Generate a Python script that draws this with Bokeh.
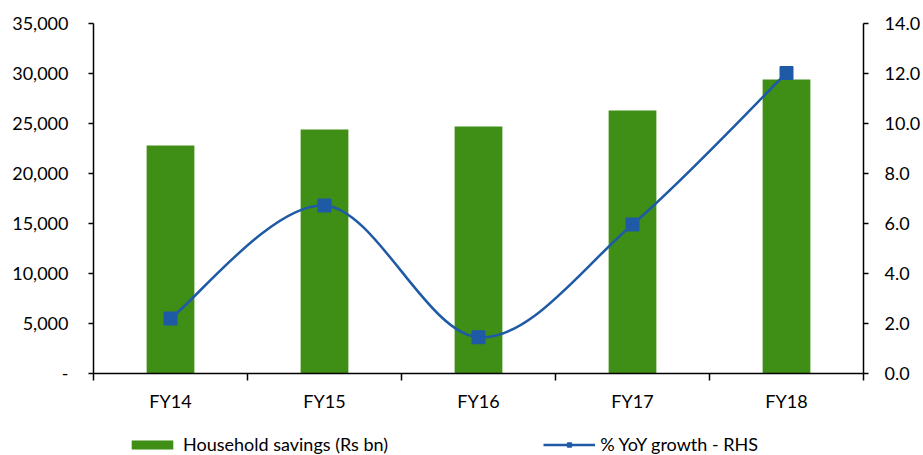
from bokeh.plotting import figure
from bokeh.layouts import column
from bokeh.models import (Range1d, LinearAxis, FixedTicker, NumeralTickFormatter,
                          Legend, LegendItem, ColumnDataSource)
from bokeh.embed import file_html
from bokeh.resources import INLINE

# Chart data
years = ["FY14", "FY15", "FY16", "FY17", "FY18"]
savings = [22800, 24400, 24700, 26300, 29400]        # Household savings (Rs bn)
growth = [2.2, 6.72, 1.45, 5.96, 12.02]               # % YoY growth - RHS
left_ticks = [0, 5000, 10000, 15000, 20000, 25000, 30000, 35000]
right_ticks = [0, 2, 4, 6, 8, 10, 12, 14]
bar_label = "Household savings (Rs bn)"
line_label = "% YoY growth - RHS"

GREEN = "#3F8E15"
BLUE = "#1F5AA6"
FONT = "Lato"
FS = "18px"

n = len(years)
xc = [i + 0.5 for i in range(n)]

p = figure(width=923, height=425, output_backend="svg", toolbar_location=None,
           x_range=Range1d(0, n), y_range=Range1d(0, 35000),
           min_border_left=93, min_border_right=59, min_border_top=23,
           min_border_bottom=52)
p.extra_y_ranges = {"pct": Range1d(0, 14)}
p.grid.visible = False
p.outline_line_color = None
p.background_fill_color = "white"
p.border_fill_color = "white"

# Bars
bar_style = dict(fill_color=GREEN, line_color=None)
p.vbar(x=xc, top=savings, width=0.31, **bar_style)

# Smoothed growth line: Catmull-Rom style Bezier segments between points
def ctrl(vals):
    c0, c1 = [], []
    for i in range(len(vals) - 1):
        prev_v = vals[i - 1] if i > 0 else vals[i]
        next_v = vals[i + 2] if i + 2 < len(vals) else vals[i + 1]
        c0.append(vals[i] + (vals[i + 1] - prev_v) / 6.0)
        c1.append(vals[i + 1] - (next_v - vals[i]) / 6.0)
    return c0, c1

cx0, cx1 = ctrl(xc)
cy0, cy1 = ctrl(growth)
seg = ColumnDataSource(dict(x0=xc[:-1], y0=growth[:-1], x1=xc[1:], y1=growth[1:],
                            cx0=cx0, cy0=cy0, cx1=cx1, cy1=cy1))
line_style = dict(line_color=BLUE, line_width=2.5)
mark_style = dict(marker="square", size=13, fill_color=BLUE, line_color=BLUE)
p.bezier(x0="x0", y0="y0", x1="x1", y1="y1", cx0="cx0", cy0="cy0",
         cx1="cx1", cy1="cy1", source=seg, y_range_name="pct", **line_style)
p.scatter(x=xc, y=growth, y_range_name="pct", **mark_style)

# Axes
xa = p.xaxis[0]
xa.ticker = FixedTicker(ticks=xc, minor_ticks=list(range(n + 1)))
xa.major_label_overrides = {x: y for x, y in zip(xc, years)}
xa.major_tick_out = 0
xa.major_tick_in = 0
xa.minor_tick_out = 7
xa.minor_tick_in = 0
xa.minor_tick_line_color = "black"
xa.axis_line_color = "black"
xa.axis_line_width = 1.5
xa.minor_tick_line_width = 1.5
xa.major_label_standoff = 9
xa.major_label_text_font = FONT
xa.major_label_text_font_size = FS
xa.major_label_text_color = "black"

ya = p.yaxis[0]
ya.ticker = FixedTicker(ticks=left_ticks)
ya.formatter = NumeralTickFormatter(format="0,0")
ya.major_label_overrides = {0: "-"}
ya.major_tick_out = 5
ya.major_tick_in = 0
ya.minor_tick_line_color = None
ya.axis_line_width = 1.5
ya.major_tick_line_width = 1.5
ya.major_label_standoff = 20
ya.major_label_text_font = FONT
ya.major_label_text_font_size = FS
ya.major_label_text_color = "black"

ra = LinearAxis(y_range_name="pct", ticker=FixedTicker(ticks=right_ticks),
                formatter=NumeralTickFormatter(format="0.0"))
ra.major_tick_out = 5
ra.major_tick_in = 0
ra.minor_tick_line_color = None
ra.axis_line_width = 1.5
ra.major_tick_line_width = 1.5
ra.major_label_standoff = 16
ra.major_label_text_font = FONT
ra.major_label_text_font_size = FS
ra.major_label_text_color = "black"
p.add_layout(ra, "right")

# Legend strip under the chart; its sample glyphs sit outside the visible range
lg = figure(width=923, height=30, output_backend="svg", toolbar_location=None,
            x_range=Range1d(0, 1), y_range=Range1d(0, 1),
            min_border=0, x_axis_type=None, y_axis_type=None)
lg.grid.visible = False
lg.outline_line_color = None
lg_bar = lg.vbar(x=[-50], bottom=[-50], top=[-49], width=0.3, **bar_style)
lg_line = lg.line(x=[-51, -50], y=[-50, -50], **line_style)
lg_mark = lg.scatter(x=[-50], y=[-50], **mark_style)

legend = Legend(items=[
    LegendItem(label=bar_label, renderers=[lg_bar]),
    LegendItem(label=line_label, renderers=[lg_line, lg_mark]),
], orientation="horizontal", location=(33, 0), spacing=155,
   glyph_width=52, glyph_height=11, label_standoff=5, padding=0, margin=0,
   border_line_color=None, background_fill_alpha=0,
   label_text_font=FONT, label_text_font_size=FS, label_text_color="black")
lg.add_layout(legend, "center")

layout = column(p, lg, spacing=0)
html = file_html(layout, INLINE)
open("out.html", "w").write(html)
